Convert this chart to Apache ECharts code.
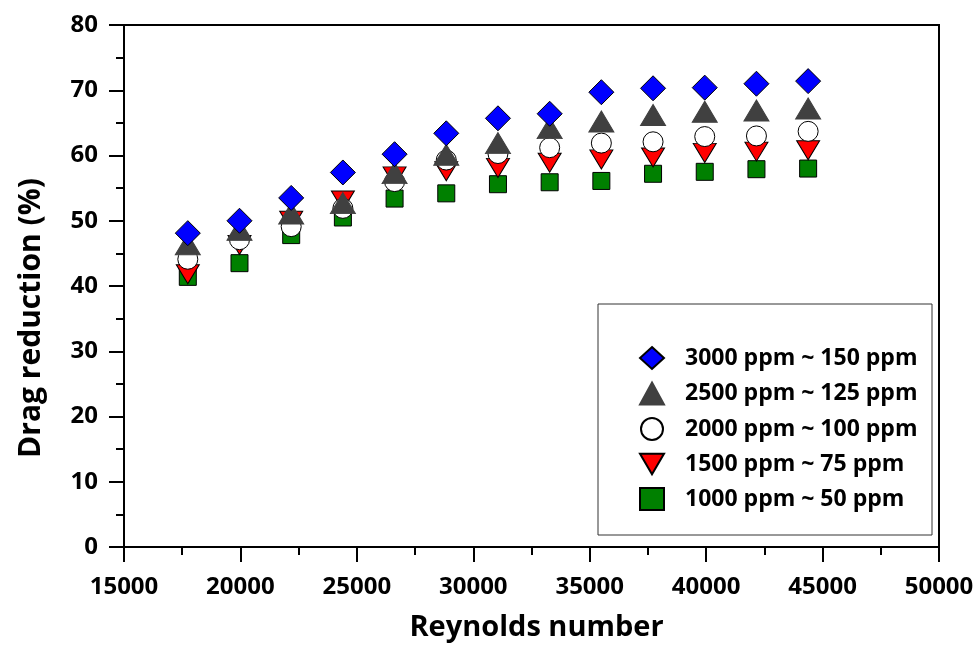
<!DOCTYPE html>
<html>
<head>
<meta charset="utf-8">
<script src="https://cdn.jsdelivr.net/npm/echarts@6/dist/echarts.min.js"></script>
<style>html,body{margin:0;padding:0;background:#fff}#c{width:980px;height:648px}</style>
</head>
<body>
<div id="c"></div>
<script>
const reynolds = [17740, 19960, 22180, 24400, 26620, 28840, 31060, 33280, 35500, 37720, 39940, 42160, 44380];
const dr3000 = [48.1, 50.0, 53.5, 57.4, 60.2, 63.4, 65.7, 66.4, 69.7, 70.3, 70.4, 71.0, 71.4];
const dr2500 = [46.4, 48.6, 51.1, 52.7, 57.3, 60.1, 61.9, 64.2, 65.2, 66.2, 66.7, 66.9, 67.2];
const dr2000 = [44.1, 47.1, 49.1, 51.9, 56.0, 59.3, 60.3, 61.2, 61.9, 62.1, 62.9, 63.0, 63.7];
const dr1500 = [41.8, 46.3, 50.0, 53.1, 56.8, 57.6, 58.1, 58.9, 59.4, 59.7, 60.4, 60.6, 60.8];
const dr1000 = [41.4, 43.5, 47.8, 50.5, 53.4, 54.2, 55.6, 55.9, 56.1, 57.2, 57.5, 57.9, 58.0];
const seriesNames = ['3000 ppm ~ 150 ppm', '2500 ppm ~ 125 ppm', '2000 ppm ~ 100 ppm', '1500 ppm ~ 75 ppm', '1000 ppm ~ 50 ppm'];
const xTicks = {min: 15000, max: 50000, interval: 5000};
const yTicks = {min: 0, max: 80, interval: 10};

const FONT = 'Open Sans';
const downTri = 'path://M0,0 L20,0 L10,17 Z';
const pairs = v => reynolds.map((x, i) => [x, v[i]]);

const chart = echarts.init(document.getElementById('c'));
chart.setOption({
  animation: false,
  backgroundColor: '#fff',
  grid: {left: 124, right: 41, top: 25, bottom: 101, show: true, borderColor: '#000', borderWidth: 2},
  xAxis: {
    type: 'value', min: xTicks.min, max: xTicks.max, interval: xTicks.interval,
    name: 'Reynolds number', nameLocation: 'middle', nameGap: 66,
    nameTextStyle: {fontFamily: FONT, fontWeight: 'bold', fontSize: 29, color: '#000', padding: [0, 0, 0, 10]},
    axisLine: {lineStyle: {color: '#000', width: 2}},
    axisTick: {inside: false, length: 15, lineStyle: {color: '#000', width: 2}},
    minorTick: {show: true, splitNumber: 2, length: 8, lineStyle: {color: '#000', width: 2}},
    splitLine: {show: false},
    axisLabel: {margin: 28, fontFamily: FONT, fontWeight: 'bold', fontSize: 24, color: '#000',
      formatter: v => String(v)}
  },
  yAxis: {
    type: 'value', min: yTicks.min, max: yTicks.max, interval: yTicks.interval,
    name: 'Drag reduction (%)', nameLocation: 'middle', nameGap: 78,
    nameTextStyle: {fontFamily: FONT, fontWeight: 'bold', fontSize: 30, color: '#000', padding: [0, 64, 0, 0]},
    axisLine: {lineStyle: {color: '#000', width: 2}},
    axisTick: {inside: false, length: 15, lineStyle: {color: '#000', width: 2}},
    minorTick: {show: true, splitNumber: 2, length: 8, lineStyle: {color: '#000', width: 2}},
    splitLine: {show: false},
    axisLabel: {margin: 26, fontFamily: FONT, fontWeight: 'bold', fontSize: 24, color: '#000'}
  },
  legend: {
    orient: 'vertical', left: 634, top: 341, itemWidth: 24, itemHeight: 22, itemGap: 11.5,
    data: seriesNames,
    textStyle: {fontFamily: FONT, fontWeight: 'bold', fontSize: 23, lineHeight: 22, color: '#000', padding: [0, 0, 0, 16]}
  },
  graphic: [{type: 'rect', shape: {x: 598, y: 304, width: 334, height: 231}, style: {fill: 'none', stroke: '#333', lineWidth: 1}, z: 1}],
  series: [
    {name: seriesNames[0], type: 'scatter', data: pairs(dr3000), symbol: 'diamond', symbolSize: [25, 25], z: 6,
     itemStyle: {color: '#0000ff', borderColor: '#000', borderWidth: 1, opacity: 1}},
    {name: seriesNames[1], type: 'scatter', data: pairs(dr2500), symbol: 'triangle', symbolSize: [25, 21], z: 5,
     itemStyle: {color: '#404040', borderColor: '#404040', borderWidth: 1, opacity: 1}},
    {name: seriesNames[2], type: 'scatter', data: pairs(dr2000), symbol: 'circle', symbolSize: 20, z: 4,
     itemStyle: {color: '#ffffff', borderColor: '#000', borderWidth: 1, opacity: 1}},
    {name: seriesNames[3], type: 'scatter', data: pairs(dr1500), symbol: downTri, symbolSize: [23, 19], z: 3,
     itemStyle: {color: '#ff0000', borderColor: '#000', borderWidth: 1, opacity: 1}},
    {name: seriesNames[4], type: 'scatter', data: pairs(dr1000), symbol: 'rect', symbolSize: 17, z: 2,
     itemStyle: {color: '#008000', borderColor: '#000', borderWidth: 1, opacity: 1}}
  ]
});
</script>
</body>
</html>
